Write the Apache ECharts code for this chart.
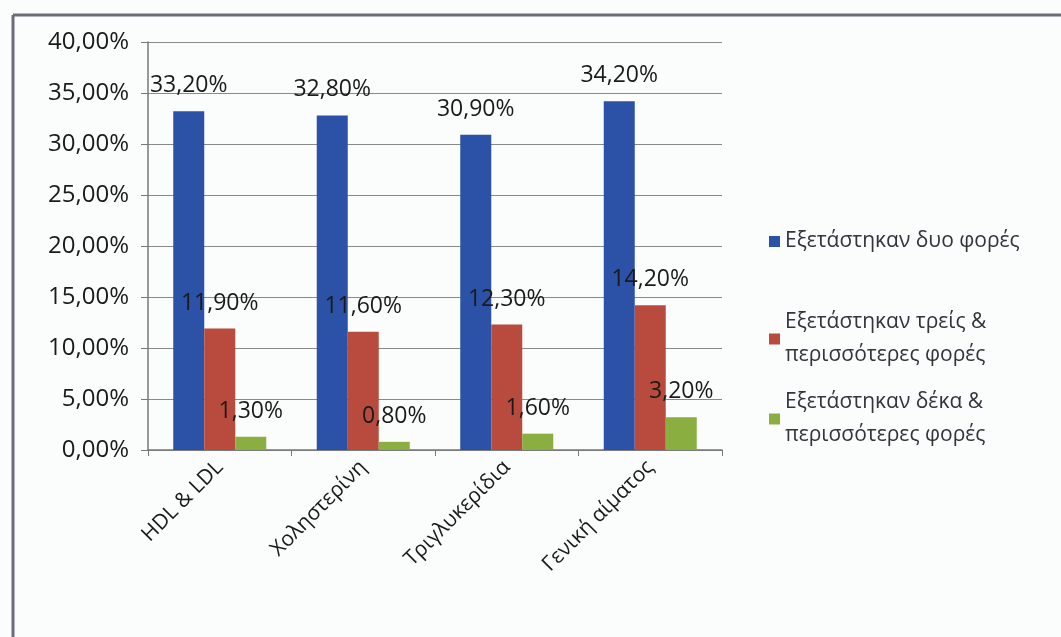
<!DOCTYPE html>
<html><head><meta charset="utf-8">
<script src="https://cdn.jsdelivr.net/npm/echarts@6/dist/echarts.min.js"></script>
<style>html,body{margin:0;padding:0;background:#fbfdfc;}#c{width:1061px;height:637px;}</style>
</head><body><div id="c"></div>
<script>
const categories = ['HDL & LDL', 'Χοληστερίνη', 'Τριγλυκερίδια', 'Γενική αίματος'];
const seriesNames = ['Εξετάστηκαν δυο φορές', 'Εξετάστηκαν τρείς &\nπερισσότερες φορές', 'Εξετάστηκαν δέκα &\nπερισσότερες φορές'];
const twice = [33.2, 32.8, 30.9, 34.2];
const threePlus = [11.9, 11.6, 12.3, 14.2];
const tenPlus = [1.3, 0.8, 1.6, 3.2];
const colors = ['#2b52a6', '#b84b3d', '#8bae41'];
const font = '"Open Sans", sans-serif';
const fmt = v => v.toFixed(2).replace('.', ',') + '%';

const chart = echarts.init(document.getElementById('c'));
const mk = (name, data, color) => ({
  name, type: 'bar', data, barWidth: 31, barGap: '0%',
  itemStyle: { color },
  label: { show: true, position: 'top', distance: 14, color: '#1a1a1a', fontFamily: font, fontSize: 23,
    formatter: p => fmt(p.value) }
});
const legendItem = (i, top) => ({
  data: [seriesNames[i]], left: 764, top, orient: 'vertical', icon: 'rect',
  itemWidth: 11, itemHeight: 11, itemGap: 0,
  textStyle: { color: '#33343c', fontFamily: font, fontSize: 21, lineHeight: 33 }
});
chart.setOption({
  backgroundColor: '#fbfdfc',
  animation: false,
  grid: { left: 148, right: 339, top: 42, bottom: 187 },
  legend: [legendItem(0, 220), legendItem(1, 301), legendItem(2, 381)],
  xAxis: {
    type: 'category', data: categories,
    axisLine: { lineStyle: { color: '#777', width: 1.5 } },
    axisTick: { show: true, length: 6, lineStyle: { color: '#777' } },
    axisLabel: { rotate: 45, color: '#1a1a1a', fontFamily: font, fontSize: 21, margin: 14 }
  },
  yAxis: {
    type: 'value', min: 0, max: 40, interval: 5,
    axisLine: { show: true, lineStyle: { color: '#777', width: 1.5 } },
    axisTick: { show: true, length: 7, lineStyle: { color: '#777' } },
    splitLine: { lineStyle: { color: '#8a8a8a', width: 1.2 } },
    axisLabel: { color: '#1a1a1a', fontFamily: font, fontSize: 24, margin: 19, formatter: v => fmt(v) }
  },
  series: [mk(seriesNames[0], twice, colors[0]), mk(seriesNames[1], threePlus, colors[1]), mk(seriesNames[2], tenPlus, colors[2])],
  graphic: [
    { type: 'line', shape: { x1: 13, y1: 15, x2: 1061, y2: 15 }, style: { stroke: '#6b6e78', lineWidth: 3 } },
    { type: 'line', shape: { x1: 13, y1: 15, x2: 13, y2: 637 }, style: { stroke: '#6b6e78', lineWidth: 3 } }
  ]
});
</script></body></html>
